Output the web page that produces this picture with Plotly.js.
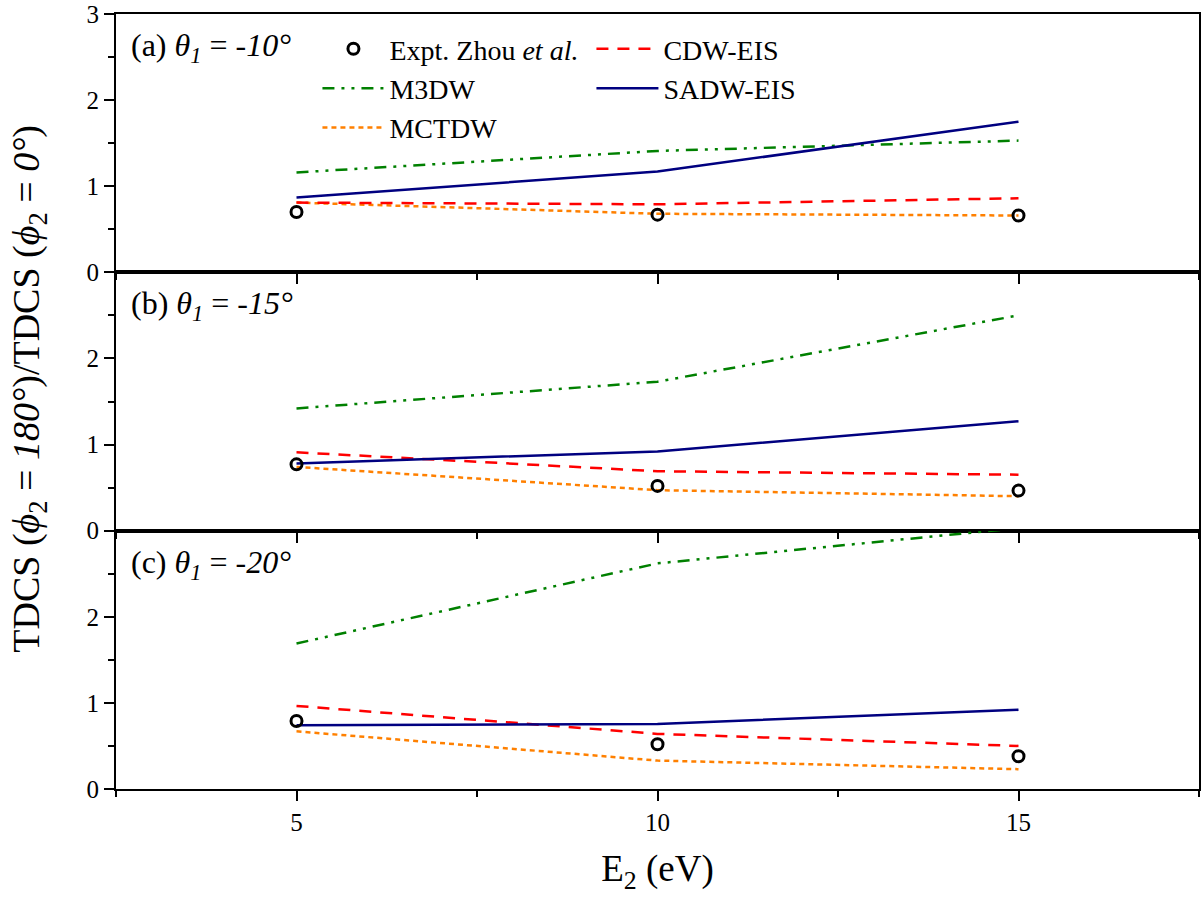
<!DOCTYPE html>
<html>
<head>
<meta charset="utf-8">
<script src="https://cdn.plot.ly/plotly-3.0.1.min.js"></script>
<style>html,body{margin:0;padding:0;background:#fff;}#chart{width:1201px;height:899px;}</style>
</head>
<body>
<div id="chart"></div>
<script>
// Energies E2 (eV)
const energies = [5, 10, 15];

// Panel (a) theta1 = -10 deg
const exptA  = [0.70, 0.67, 0.66];
const m3dwA  = [1.16, 1.41, 1.53];
const sadwA  = [0.87, 1.17, 1.75];
const cdwA   = [0.81, 0.79, 0.86];
const mctdwA = [0.81, 0.68, 0.66];

// Panel (b) theta1 = -15 deg
const exptB  = [0.77, 0.52, 0.465];
const m3dwB  = [1.42, 1.73, 2.50];
const sadwB  = [0.78, 0.92, 1.27];
const cdwB   = [0.91, 0.69, 0.65];
const mctdwB = [0.74, 0.47, 0.40];

// Panel (c) theta1 = -20 deg
const exptC  = [0.79, 0.52, 0.38];
const m3dwC  = [1.69, 2.62, 3.03];
const sadwC  = [0.74, 0.755, 0.92];
const cdwC   = [0.965, 0.64, 0.50];
const mctdwC = [0.67, 0.33, 0.23];

const panelLabels = [
  '(a) <i>θ</i><sub><i>1</i></sub> = <i>-10°</i>',
  '(b) <i>θ</i><sub><i>1</i></sub> = <i>-15°</i>',
  '(c) <i>θ</i><sub><i>1</i></sub> = <i>-20°</i>'
];
const xTickVals = [5, 10, 15];
const yTickVals = [0, 1, 2, 3];

const FONT = 'Liberation Serif, Times New Roman, serif';
const styles = {
  expt:  {name: 'Expt. Zhou <i>et al.</i>', legend: 'legend'},
  cdw:   {name: 'CDW-EIS', color: '#ff0000', dash: '12px,9px', width: 2.5, legend: 'legend2'},
  m3dw:  {name: 'M3DW', color: '#008000', dash: '12px,7px,3px,7px,3px,7px', width: 2.5, legend: 'legend'},
  sadw:  {name: 'SADW-EIS', color: '#000080', dash: 'solid', width: 2.5, legend: 'legend2'},
  mctdw: {name: 'MCTDW', color: '#ff8000', dash: '5px,4px', width: 2.5, legend: 'legend'}
};

const panels = [
  {ax: '', expt: exptA, cdw: cdwA, m3dw: m3dwA, sadw: sadwA, mctdw: mctdwA},
  {ax: '2', expt: exptB, cdw: cdwB, m3dw: m3dwB, sadw: sadwB, mctdw: mctdwB},
  {ax: '3', expt: exptC, cdw: cdwC, m3dw: m3dwC, sadw: sadwC, mctdw: mctdwC}
];

const traces = [];
panels.forEach((p, i) => {
  const xa = 'x' + p.ax, ya = 'y' + p.ax;
  ['m3dw', 'mctdw', 'cdw', 'sadw'].forEach(k => {
    const s = styles[k];
    traces.push({
      x: energies, y: p[k], xaxis: xa, yaxis: ya, type: 'scatter', mode: 'lines',
      name: s.name, legend: s.legend, showlegend: i === 0,
      legendrank: {m3dw: 2, mctdw: 3, cdw: 1, sadw: 2}[k],
      line: {color: s.color, dash: s.dash, width: s.width}
    });
  });
  traces.push({
    x: energies, y: p.expt, xaxis: xa, yaxis: ya, type: 'scatter', mode: 'markers',
    name: styles.expt.name, legend: 'legend', showlegend: i === 0, legendrank: 1,
    marker: {symbol: 'circle-open', size: 11, color: '#000', line: {width: 3, color: '#000'}}
  });
});

const domains = [[2/3, 1], [1/3, 2/3], [0, 1/3]];
const layout = {
  width: 1201, height: 899,
  margin: {l: 116, r: 2, t: 14, b: 110},
  paper_bgcolor: '#fff', plot_bgcolor: '#fff',
  font: {family: FONT, size: 25, color: '#000'},
  showlegend: true,
  legend: {x: 0.186, y: 0.987, xanchor: 'left', yanchor: 'top', bgcolor: 'rgba(0,0,0,0)',
           font: {family: FONT, size: 28}, itemwidth: 62, tracegroupgap: 0, traceorder: 'normal'},
  legend2: {x: 0.439, y: 0.987, xanchor: 'left', yanchor: 'top', bgcolor: 'rgba(0,0,0,0)',
            font: {family: FONT, size: 28}, itemwidth: 62, tracegroupgap: 0, traceorder: 'normal'},
  annotations: [],
};

panels.forEach((p, i) => {
  const xk = 'xaxis' + p.ax, yk = 'yaxis' + p.ax;
  const bottom = i === 2;
  layout[xk] = {
    domain: [0, 1], anchor: 'y' + p.ax, range: [2.5, 17.5],
    tickvals: xTickVals, ticks: 'outside', ticklen: 10, tickwidth: 2, tickcolor: '#000',
    minor: {tickvals: [2.5, 7.5, 12.5, 17.5], ticks: 'outside', ticklen: 6, tickwidth: 2, tickcolor: '#000'},
    showticklabels: bottom, showgrid: false, zeroline: false,
    showline: true, linewidth: 2, linecolor: '#000', mirror: true,
    tickfont: {family: FONT, size: 25}
  };
  if (i > 0) layout[xk].matches = 'x';
  if (bottom) {
    layout[xk].title = {text: 'E<sub>2</sub> (eV)', font: {family: FONT, size: 37}, standoff: 20};
  }
  layout[yk] = {
    domain: domains[i], anchor: 'x' + p.ax, range: [0, 3],
    tickvals: yTickVals, ticktext: i === 0 ? ['0', '1', '2', '3'] : ['0', '1', '2', ''],
    ticks: 'outside', ticklen: 10, tickwidth: 2, tickcolor: '#000',
    minor: {tickvals: [0.5, 1.5, 2.5], ticks: 'outside', ticklen: 6, tickwidth: 2, tickcolor: '#000'},
    showgrid: false, zeroline: false,
    showline: true, linewidth: 2, linecolor: '#000', mirror: 'ticks',
    tickfont: {family: FONT, size: 25}
  };
  layout.annotations.push({
    text: panelLabels[i], xref: 'x' + p.ax + ' domain', yref: 'y' + p.ax + ' domain',
    x: 0.012, y: 0.87, xanchor: 'left', yanchor: 'middle', showarrow: false,
    font: {family: FONT, size: 32}
  });
});

layout.annotations.push({
  text: 'TDCS (<i>ϕ</i><sub>2</sub> = <i>180°</i>)/TDCS (<i>ϕ</i><sub>2</sub> = <i>0°</i>)',
  xref: 'paper', yref: 'paper', x: -0.08, y: 0.517, xanchor: 'center', yanchor: 'middle',
  textangle: -90, showarrow: false, font: {family: FONT, size: 38}
});

Plotly.newPlot('chart', traces, layout, {displayModeBar: false, staticPlot: true});
</script>
</body>
</html>
